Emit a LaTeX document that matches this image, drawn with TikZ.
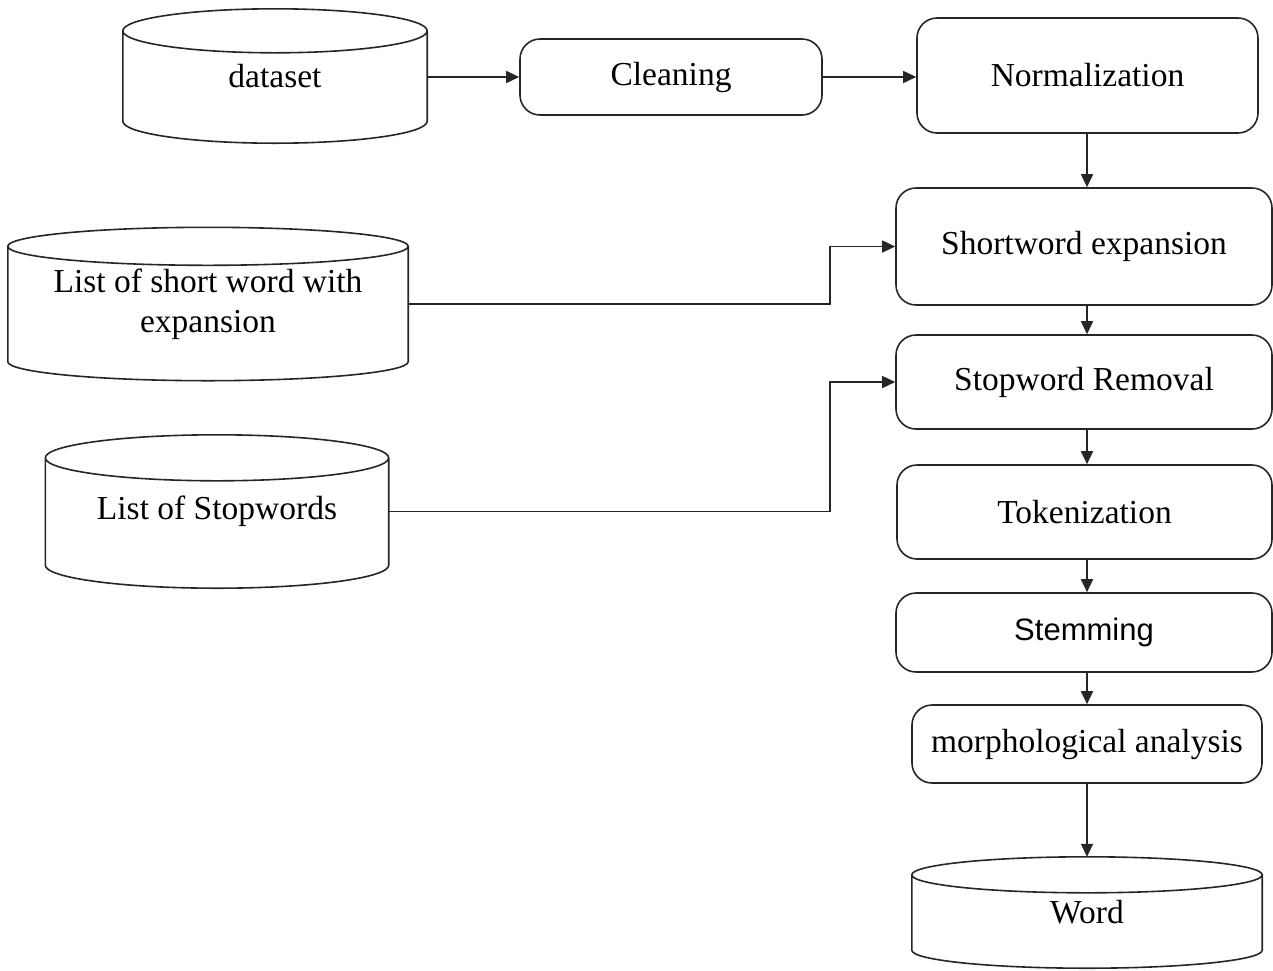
\documentclass[tikz,border=0pt]{standalone}
\usepackage{fontspec}
\setmainfont{Liberation Serif}
\newfontfamily\arialf{Liberation Sans}
\usetikzlibrary{arrows.meta,calc}
\tikzset{
  ln/.style={line width=1.6pt, draw=black!85},
  arr/.style={ln, -{Triangle[length=13pt,width=12pt]}},
  procbox/.style={ln, rounded corners=20pt, align=center, inner sep=0pt,
    font=\fontsize{33.5}{40}\selectfont},
  cylbox/.style={draw=none, align=center, inner sep=0pt,
    font=\fontsize{33.5}{40}\selectfont}
}
\newcommand{\drawcyl}[2]{%
  \draw[ln] let \p1=(#1.north west), \p2=(#1.south east), \n1={(\x2-\x1)/2} in
    (\x1+\n1, \y1-#2pt) ellipse [x radius=\n1, y radius=#2pt]
    (\x1, \y1-#2pt) -- (\x1, \y2+#2pt)
    arc[start angle=180, end angle=360, x radius=\n1, y radius=#2pt]
    -- (\x2, \y1-#2pt);
}
\begin{document}
\begin{tikzpicture}[x=1pt,y=-1pt]
\useasboundingbox (0,0) rectangle (1273,970);
% stores
\node[cylbox, minimum width=304pt, minimum height=134pt] (dataset) at (275,76) {dataset};
\node[cylbox, minimum width=400pt, minimum height=153pt] (shortlist) at (208,304) {List of short word with\\expansion};
\node[cylbox, minimum width=343pt, minimum height=153pt] (stoplist) at (217,511.5) {List of Stopwords};
\node[cylbox, minimum width=350pt, minimum height=111pt] (word) at (1087,912.5) {Word};
\drawcyl{dataset}{22}
\drawcyl{shortlist}{19}
\drawcyl{stoplist}{23}
\drawcyl{word}{18}
% processes
\node[procbox, minimum width=302pt, minimum height=76pt] (clean) at (671,77) {Cleaning};
\node[procbox, minimum width=341pt, minimum height=115pt] (norm) at (1087.5,75.5) {Normalization};
\node[procbox, minimum width=376pt, minimum height=117pt] (short) at (1084,246.5) {Shortword expansion};
\node[procbox, minimum width=376pt, minimum height=94pt] (stop) at (1084,382) {Stopword Removal};
\node[procbox, minimum width=375pt, minimum height=94pt] (token) at (1084.5,512) {Tokenization};
\node[procbox, minimum width=376pt, minimum height=79pt, font=\arialf\fontsize{31}{36}\selectfont] (stem) at (1084,632.5) {Stemming};
\node[procbox, minimum width=350pt, minimum height=78pt] (morph) at (1087,744) {morphological analysis};
% connectors
\coordinate (col) at (1087,0);
\coordinate (jx) at (830,0);
\draw[arr] (dataset.east |- clean.west) -- (clean.west);
\draw[arr] (clean.east) -- (clean.east -| norm.west);
\draw[arr] (norm.south -| col) -- (short.north -| col);
\draw[arr] (short.south -| col) -- (stop.north -| col);
\draw[arr] (stop.south -| col) -- (token.north -| col);
\draw[arr] (token.south -| col) -- (stem.north -| col);
\draw[arr] (stem.south -| col) -- (morph.north -| col);
\draw[arr] (morph.south -| col) -- (word.north -| col);
\draw[arr] (shortlist.east) -- (shortlist.east -| jx) |- (short.west);
\draw[arr] (stoplist.east) -- (stoplist.east -| jx) |- (stop.west);
\end{tikzpicture}
\end{document}
